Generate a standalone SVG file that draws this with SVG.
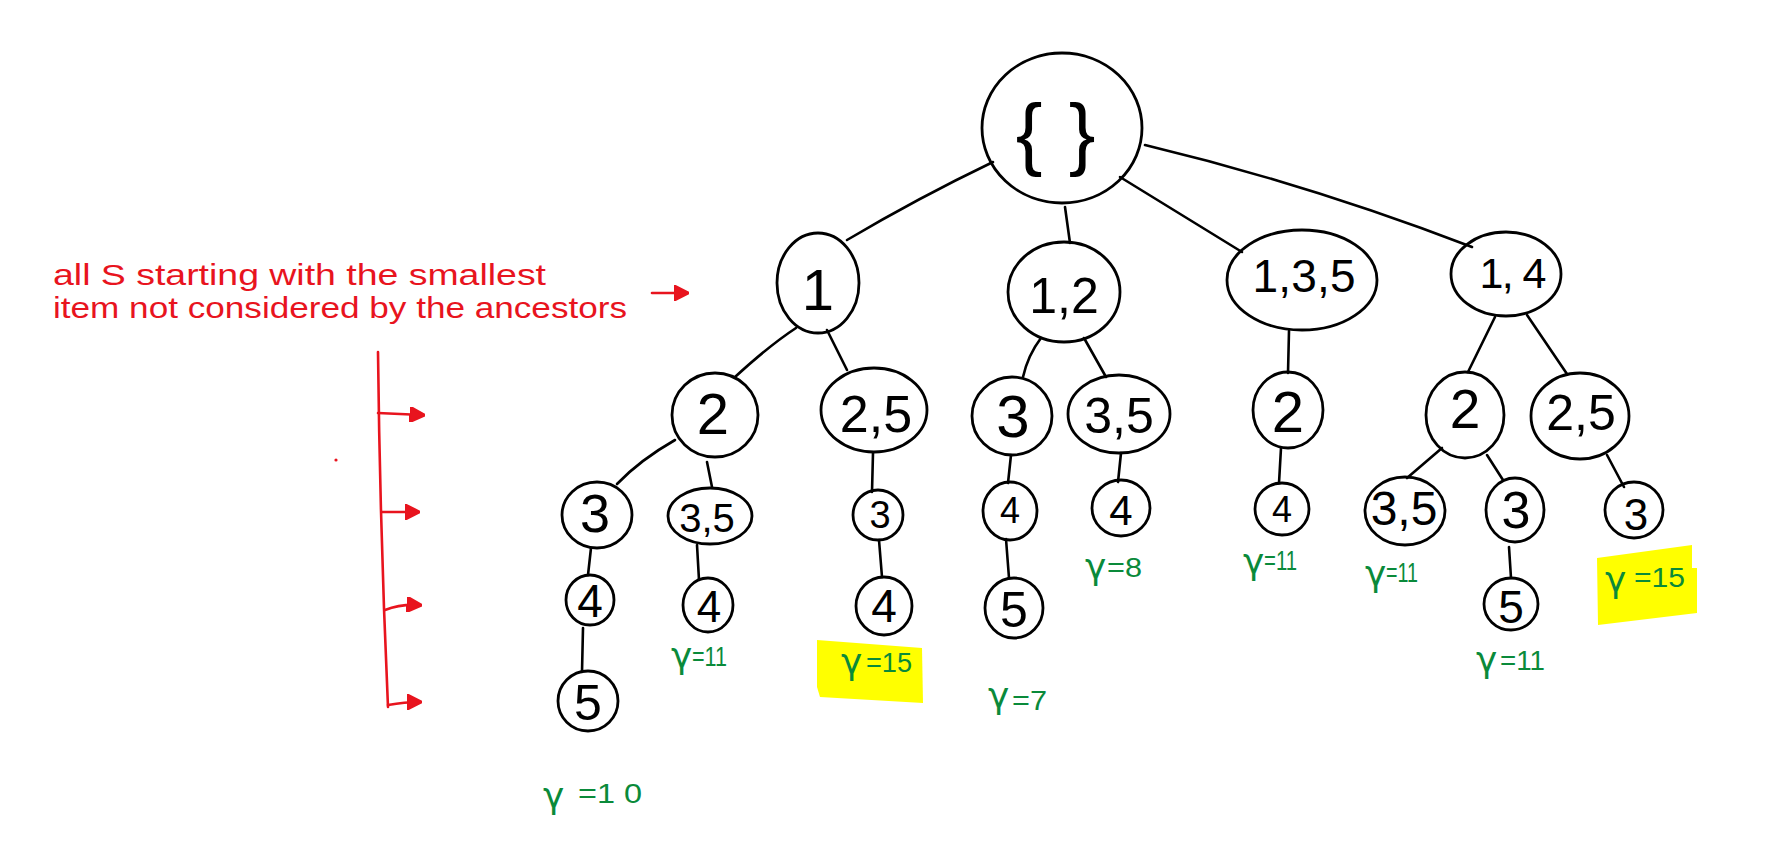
<svg xmlns="http://www.w3.org/2000/svg" width="1788" height="846" viewBox="0 0 1788 846">
  <defs>
    <style>
      .node ellipse { fill: none; stroke: #000; stroke-width: 2.8; }
      .node text { font-family: "Liberation Sans", Arial, sans-serif; fill: #000; text-anchor: middle; }
      .edges path { fill: none; stroke: #000; stroke-width: 2.6; stroke-linecap: round; }
      .score text { font-family: "Liberation Sans", Arial, sans-serif; fill: #0a8a3a; font-size: 28px; }
      .score .g { font-family: "DejaVu Sans", "Liberation Sans", sans-serif; font-size: 36px; }
      .mark { fill: #ffff00; }
      .note { font-family: "Liberation Sans", Arial, sans-serif; fill: #e8141e; font-size: 29px; }
      .red { fill: none; stroke: #e8141e; stroke-width: 2.6; stroke-linecap: round; }
    </style>
    <marker id="redhead" viewBox="0 0 10 10" refX="8" refY="5" markerWidth="6" markerHeight="6" orient="auto" markerUnits="strokeWidth">
      <path d="M0,0 L10,5 L0,10 z" fill="#e8141e" stroke="#e8141e" stroke-width="1.5" stroke-linejoin="round"/>
    </marker>
  </defs>

  <!-- highlight marks behind the best scores -->
  <polygon class="mark" points="817,640 922,648 923,703 820,697 817,687"/>
  <polygon class="mark" points="1597,558 1692,545 1692,568 1697,568 1697,613 1598,625"/>

  <!-- connectors -->
  <g class="edges">
    <path d="M993,162 Q918,198 847,240"/>
    <path d="M1065,207 L1070,243"/>
    <path d="M1120,177 L1242,252"/>
    <path d="M1145,145 Q1308,184 1472,247"/>
    <path d="M796,328 Q770,345 735,377"/>
    <path d="M827,330 L847,370"/>
    <path d="M1041,338 Q1028,355 1023,377"/>
    <path d="M1084,338 L1106,377"/>
    <path d="M1289,331 L1288,373"/>
    <path d="M1495,317 L1468,372"/>
    <path d="M1527,315 L1567,374"/>
    <path d="M675,440 Q640,460 617,484"/>
    <path d="M707,462 L712,487"/>
    <path d="M873,453 L872,492"/>
    <path d="M591,548 L588,575"/>
    <path d="M697,545 L699,580"/>
    <path d="M879,540 L882,577"/>
    <path d="M583,628 L582,672"/>
    <path d="M1011,455 L1008,483"/>
    <path d="M1121,453 L1118,482"/>
    <path d="M1006,539 L1009,578"/>
    <path d="M1281,448 L1279,483"/>
    <path d="M1442,448 L1407,478"/>
    <path d="M1487,455 L1503,480"/>
    <path d="M1607,455 L1624,487"/>
    <path d="M1509,547 L1511,578"/>
  </g>

  <!-- root -->
  <g id="n-root" class="node">
    <ellipse cx="1062" cy="128" rx="80" ry="75"/>
    <text x="1029" y="160" font-size="80">{</text>
    <text x="1082" y="160" font-size="80">}</text>
  </g>

  <!-- first level -->
  <g id="n-1" class="node"><ellipse cx="818" cy="283" rx="41" ry="50"/><text x="818" y="310" font-size="58">1</text></g>
  <g id="n-12" class="node"><ellipse cx="1064" cy="292" rx="56" ry="50"/><text x="1064" y="313" font-size="50">1,2</text></g>
  <g id="n-135" class="node"><ellipse cx="1302" cy="280" rx="75" ry="50"/><text x="1304" y="292" font-size="46" textLength="103">1,3,5</text></g>
  <g id="n-14" class="node"><ellipse cx="1506" cy="274" rx="55" ry="42"/><text x="1513" y="288" font-size="43" textLength="67">1, 4</text></g>

  <!-- under {1} -->
  <g id="n-1-2" class="node"><ellipse cx="715" cy="415" rx="43" ry="42"/><text x="713" y="434" font-size="58">2</text></g>
  <g id="n-1-25" class="node"><ellipse cx="874" cy="410" rx="53" ry="42"/><text x="876" y="432" font-size="52">2,5</text></g>
  <g id="n-1-2-3" class="node"><ellipse cx="597" cy="515" rx="35" ry="33"/><text x="595" y="532" font-size="54">3</text></g>
  <g id="n-1-2-35" class="node"><ellipse cx="710" cy="516" rx="42" ry="28"/><text x="707" y="532" font-size="40">3,5</text></g>
  <g id="n-1-25-3" class="node"><ellipse cx="878" cy="515" rx="25" ry="25"/><text x="880" y="528" font-size="38">3</text></g>
  <g id="n-1-2-3-4" class="node"><ellipse cx="590" cy="600" rx="24" ry="25"/><text x="590" y="617" font-size="46">4</text></g>
  <g id="n-1-2-35-4" class="node"><ellipse cx="708" cy="605" rx="25" ry="27"/><text x="709" y="622" font-size="44">4</text></g>
  <g id="n-1-25-3-4" class="node"><ellipse cx="884" cy="606" rx="28" ry="29"/><text x="884" y="622" font-size="46">4</text></g>
  <g id="n-1-2-3-4-5" class="node"><ellipse cx="588" cy="701" rx="30" ry="30"/><text x="588" y="720" font-size="50">5</text></g>

  <!-- under {1,2} -->
  <g id="n-12-3" class="node"><ellipse cx="1012" cy="416" rx="40" ry="39"/><text x="1013" y="437" font-size="60">3</text></g>
  <g id="n-12-35" class="node"><ellipse cx="1119" cy="414" rx="51" ry="39"/><text x="1119" y="433" font-size="50">3,5</text></g>
  <g id="n-12-3-4" class="node"><ellipse cx="1010" cy="511" rx="27" ry="29"/><text x="1010" y="523" font-size="36">4</text></g>
  <g id="n-12-35-4" class="node"><ellipse cx="1121" cy="508" rx="29" ry="28"/><text x="1121" y="525" font-size="42">4</text></g>
  <g id="n-12-3-4-5" class="node"><ellipse cx="1014" cy="608" rx="29" ry="30"/><text x="1014" y="627" font-size="50">5</text></g>

  <!-- under {1,3,5} -->
  <g id="n-135-2" class="node"><ellipse cx="1288" cy="410" rx="35" ry="38"/><text x="1288" y="432" font-size="58">2</text></g>
  <g id="n-135-2-4" class="node"><ellipse cx="1282" cy="509" rx="27" ry="26"/><text x="1282" y="522" font-size="36">4</text></g>

  <!-- under {1,4} -->
  <g id="n-14-2" class="node"><ellipse cx="1465" cy="415" rx="39" ry="43"/><text x="1465" y="428" font-size="55">2</text></g>
  <g id="n-14-25" class="node"><ellipse cx="1580" cy="416" rx="49" ry="43"/><text x="1581" y="430" font-size="50">2,5</text></g>
  <g id="n-14-2-35" class="node"><ellipse cx="1405" cy="511" rx="40" ry="34"/><text x="1404" y="525" font-size="48">3,5</text></g>
  <g id="n-14-2-3" class="node"><ellipse cx="1515" cy="510" rx="29" ry="32"/><text x="1516" y="528" font-size="52">3</text></g>
  <g id="n-14-25-3" class="node"><ellipse cx="1634" cy="510" rx="29" ry="28"/><text x="1636" y="530" font-size="44">3</text></g>
  <g id="n-14-2-3-5" class="node"><ellipse cx="1511" cy="604" rx="27" ry="26"/><text x="1511" y="623" font-size="46">5</text></g>

  <!-- scores of the leaves -->
  <g class="score" id="score-10">
    <text class="g" x="543" y="808" font-size="52">γ</text>
    <text x="578" y="803" font-size="34" textLength="64" lengthAdjust="spacingAndGlyphs">=1 0</text>
  </g>
  <g class="score" id="score-11a">
    <text class="g" x="671" y="668">γ</text>
    <text x="692" y="666" textLength="35" lengthAdjust="spacingAndGlyphs">=11</text>
  </g>
  <g class="score" id="score-15a">
    <text class="g" x="841" y="674">γ</text>
    <text x="866" y="672" textLength="46" lengthAdjust="spacingAndGlyphs">=15</text>
  </g>
  <g class="score" id="score-8">
    <text class="g" x="1085" y="579">γ</text>
    <text x="1107" y="577" textLength="35" lengthAdjust="spacingAndGlyphs">=8</text>
  </g>
  <g class="score" id="score-11b">
    <text class="g" x="1243" y="574">γ</text>
    <text x="1264" y="570" textLength="33" lengthAdjust="spacingAndGlyphs">=11</text>
  </g>
  <g class="score" id="score-7">
    <text class="g" x="988" y="708">γ</text>
    <text x="1012" y="710" textLength="35" lengthAdjust="spacingAndGlyphs">=7</text>
  </g>
  <g class="score" id="score-11c">
    <text class="g" x="1365" y="586">γ</text>
    <text x="1386" y="582" textLength="32" lengthAdjust="spacingAndGlyphs">=11</text>
  </g>
  <g class="score" id="score-11d">
    <text class="g" x="1476" y="672" font-size="42">γ</text>
    <text x="1500" y="670" font-size="32" textLength="45" lengthAdjust="spacingAndGlyphs">=11</text>
  </g>
  <g class="score" id="score-15b">
    <text class="g" x="1605" y="592" font-size="48">γ</text>
    <text x="1634" y="587" font-size="36" textLength="51" lengthAdjust="spacingAndGlyphs">=15</text>
  </g>

  <!-- annotation on the left -->
  <g id="note">
    <text class="note" x="53" y="285" textLength="493" lengthAdjust="spacingAndGlyphs">all  S starting with the smallest</text>
    <text class="note" x="53" y="318" textLength="574" lengthAdjust="spacingAndGlyphs">item  not considered by the  ancestors</text>
    <path class="red" d="M652,293 L686,293" marker-end="url(#redhead)"/>
    <path class="red" d="M378,352 Q380,530 388,707"/>
    <path class="red" d="M378,413 L422,415" marker-end="url(#redhead)"/>
    <path class="red" d="M382,512 L417,512" marker-end="url(#redhead)"/>
    <path class="red" d="M385,610 Q400,604 419,605" marker-end="url(#redhead)"/>
    <path class="red" d="M388,705 Q405,702 419,702" marker-end="url(#redhead)"/>
    <circle cx="336" cy="460" r="1.6" fill="#e8141e"/>
  </g>
</svg>
